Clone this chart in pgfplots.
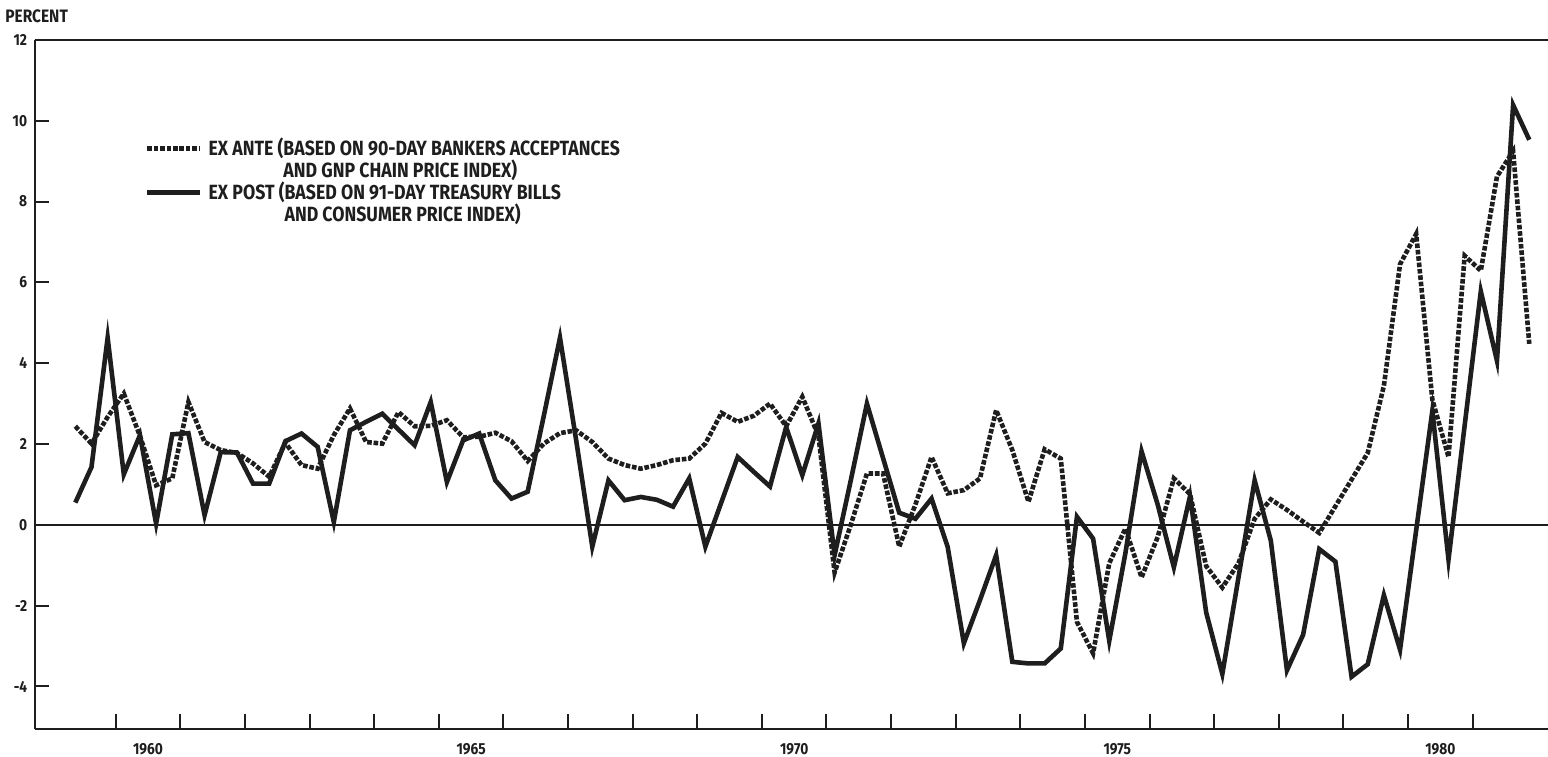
\documentclass[border=0pt]{standalone}
\usepackage{pgfplots}
\pgfplotsset{compat=1.18}
\usepackage{pgfplotstable}
\usepackage{fontspec}
\setmainfont{Fira Sans}[FakeStretch=0.86]
\pgfplotstableread{
t ante post
1959.375 2.44 0.55
1959.625 2.01 1.43
1959.875 2.67 4.63
1960.125 3.25 1.25
1960.375 2.20 2.22
1960.625 0.98 0.03
1960.875 1.15 2.24
1961.125 3.04 2.27
1961.375 2.05 0.24
1961.625 1.85 1.80
1961.875 1.78 1.79
1962.125 1.52 1.02
1962.375 1.19 1.02
1962.625 2.03 2.07
1962.875 1.48 2.26
1963.125 1.39 1.93
1963.375 2.22 0.07
1963.625 2.88 2.34
1963.875 2.05 2.55
1964.125 2.01 2.75
1964.375 2.79 2.36
1964.625 2.44 1.97
1964.875 2.45 3.04
1965.125 2.59 1.06
1965.375 2.17 2.09
1965.625 2.18 2.26
1965.875 2.28 1.10
1966.125 2.07 0.65
1966.375 1.58 0.82
1966.625 2.01 2.70
1966.875 2.27 4.63
1967.125 2.34 2.10
1967.375 2.05 -0.54
1967.625 1.64 1.10
1967.875 1.48 0.61
1968.125 1.39 0.69
1968.375 1.48 0.62
1968.625 1.60 0.45
1968.875 1.64 1.15
1969.125 2.01 -0.54
1969.375 2.77 0.57
1969.625 2.55 1.68
1969.875 2.70 1.31
1970.125 3.00 0.95
1970.375 2.44 2.42
1970.625 3.17 1.23
1970.875 2.20 2.51
1971.125 -1.18 -0.75
1971.375 0.00 1.10
1971.625 1.27 3.00
1971.875 1.27 1.65
1972.125 -0.54 0.30
1972.375 0.50 0.15
1972.625 1.68 0.65
1972.875 0.78 -0.55
1973.125 0.86 -2.93
1973.375 1.15 -1.86
1973.625 2.84 -0.75
1973.875 1.85 -3.39
1974.125 0.57 -3.43
1974.375 1.87 -3.43
1974.625 1.64 -3.06
1974.875 -2.40 0.20
1975.125 -3.18 -0.34
1975.375 -0.95 -2.87
1975.625 -0.09 -0.70
1975.875 -1.30 1.82
1976.125 -0.30 0.50
1976.375 1.15 -1.05
1976.625 0.76 0.71
1976.875 -1.02 -2.17
1977.125 -1.55 -3.69
1977.375 -0.95 -1.30
1977.625 0.15 1.10
1977.875 0.63 -0.39
1978.125 0.37 -3.60
1978.375 0.08 -2.72
1978.625 -0.20 -0.60
1978.875 0.46 -0.91
1979.125 1.12 -3.76
1979.375 1.78 -3.45
1979.625 3.44 -1.74
1979.875 6.45 -3.09
1980.125 7.20 -0.13
1980.375 3.10 2.82
1980.625 1.68 -0.86
1980.875 6.66 2.46
1981.125 6.29 5.78
1981.375 8.62 4.06
1981.625 9.25 10.39
1981.875 4.48 9.53
}\ratedata
\definecolor{ink}{HTML}{1E1E1E}
\begin{document}
\begin{tikzpicture}
\begin{axis}[
  at={(0,0)}, anchor=south west,
  scale only axis, width=756.75bp, height=344.65bp,
  xmin=1958.743, xmax=1982.165, ymin=-5.06, ymax=12,
  axis x line*=bottom, axis y line*=left,
  axis line style={-, line width=1bp, ink},
  xtick={1960,...,1981}, xticklabels={},
  extra x ticks={1960.5,1965.5,1970.5,1975.5,1980.5},
  extra x tick labels={1960,1965,1970,1975,1980},
  extra x tick style={major tick length=0pt},
  ytick={-4,-2,0,2,4,6,8,10,12},
  yticklabels={-4,-2,0,2,4,6,8,10,12},
  tick align=inside, major tick length=7.5bp,
  tick style={line width=1bp, ink},
  tick label style={font=\bfseries\fontsize{8bp}{9bp}\selectfont, text=ink, inner sep=0pt},
  xticklabel style={anchor=north, yshift=-7bp},
  yticklabel style={anchor=east, xshift=-3.5bp},
  clip=false,
  legend cell align=left,
  legend image code/.code={\draw[#1] (0bp,0bp) -- (26.5bp,0bp);},
  legend style={draw=none, fill=none, at={(rel axis cs:0,1)}, anchor=north west,
    xshift=55.25bp, yshift=-48.9bp, inner sep=0pt, outer sep=0pt,
    row sep=0pt, column sep=3bp, text=ink,
    font=\bfseries\fontsize{10.3bp}{11bp}\selectfont,
    nodes={inner sep=0pt, text height=8.8bp, text depth=2.2bp}},
]
\draw[line width=1.2bp, ink] (rel axis cs:0,1) -- (rel axis cs:1,1);
\draw[line width=0.9bp, ink] (axis cs:1958.743,0) -- (axis cs:1982.165,0);
\addplot[line width=2.3bp, ink, dash pattern=on 2.3bp off 0.9bp] table[x=t,y=ante]{\ratedata};
\addlegendentry{EX ANTE (BASED ON 90-DAY BANKERS ACCEPTANCES}
\addlegendimage{empty legend}
\addlegendentry{\phantom{EX ANTE (}AND GNP CHAIN PRICE INDEX)}
\addplot[line width=2.3bp, ink] table[x=t,y=post]{\ratedata};
\addlegendentry{EX POST (BASED ON 91-DAY TREASURY BILLS}
\addlegendimage{empty legend}
\addlegendentry{\phantom{EX POST (}AND CONSUMER PRICE INDEX)}
\end{axis}
\node[anchor=base west, inner sep=0pt, text=ink, font=\bfseries\fontsize{9bp}{10bp}\selectfont] at (-14.75bp,353.3bp) {PERCENT};
\pgfresetboundingbox
\path[use as bounding box] (-17.25bp,-13.85bp) rectangle (756.75bp,364.65bp);
\end{tikzpicture}
\end{document}
